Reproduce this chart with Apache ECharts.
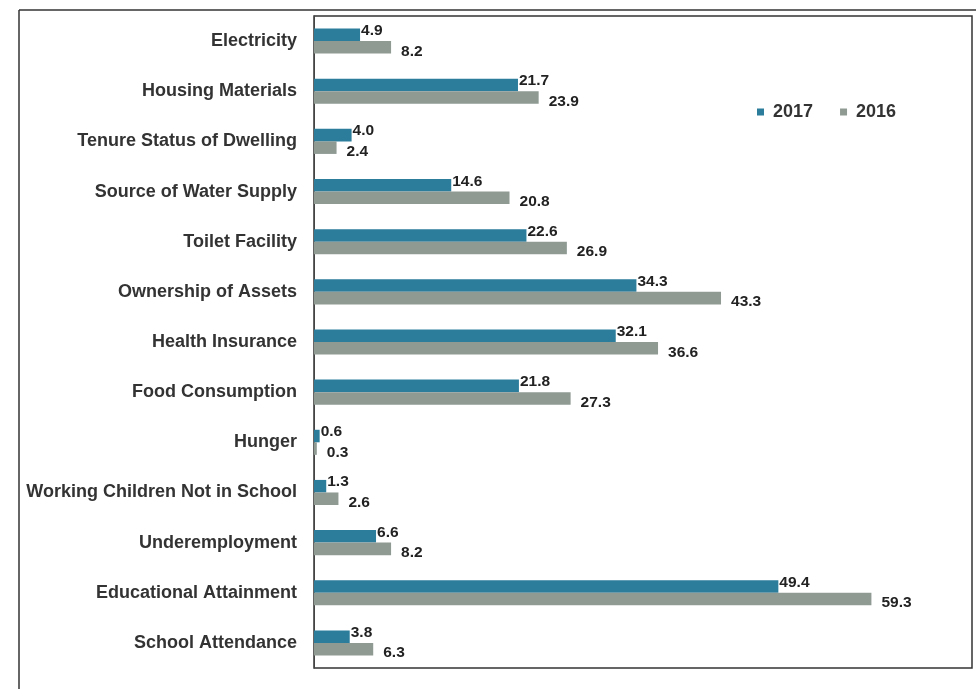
<!DOCTYPE html>
<html>
<head>
<meta charset="utf-8">
<style>
html,body{margin:0;padding:0;background:#fff;}
#chart{width:976px;height:689px;}
</style>
<script src="https://cdn.jsdelivr.net/npm/echarts@6/dist/echarts.min.js"></script>
</head>
<body>
<div id="chart"></div>
<script>
var categories = [
  "Electricity",
  "Housing Materials",
  "Tenure Status of Dwelling",
  "Source of Water Supply",
  "Toilet Facility",
  "Ownership of Assets",
  "Health Insurance",
  "Food Consumption",
  "Hunger",
  "Working Children Not in School",
  "Underemployment",
  "Educational Attainment",
  "School Attendance"
];
var values2017 = [4.9, 21.7, 4.0, 14.6, 22.6, 34.3, 32.1, 21.8, 0.6, 1.3, 6.6, 49.4, 3.8];
var values2016 = [8.2, 23.9, 2.4, 20.8, 26.9, 43.3, 36.6, 27.3, 0.3, 2.6, 8.2, 59.3, 6.3];

var chart = echarts.init(document.getElementById('chart'), null, {renderer: 'canvas'});
var labelFont = {fontFamily: 'Liberation Sans', fontWeight: 'bold', fontSize: 15.5, color: '#222'};
var option = {
  backgroundColor: '#ffffff',
  animation: false,
  legend: {
    data: ['2017', '2016'],
    left: 752,
    top: 98,
    itemWidth: 7,
    itemHeight: 7,
    itemGap: 27,
    icon: 'rect',
    textStyle: {fontFamily: 'Liberation Sans', fontWeight: 'bold', fontSize: 18, color: '#333', padding: [0,0,0,4]}
  },
  grid: {
    left: 314, top: 16, right: 4, bottom: 21,
    show: true, borderColor: '#333', borderWidth: 1.5, backgroundColor: 'transparent'
  },
  xAxis: {
    type: 'value', min: 0, max: 70,
    show: false,
    splitLine: {show: false}
  },
  yAxis: {
    type: 'category',
    data: categories,
    inverse: true,
    axisTick: {show: false},
    axisLine: {show: true, lineStyle: {color: '#444', width: 1}},
    axisLabel: {
      margin: 17,
      fontFamily: 'Liberation Sans', fontWeight: 'bold', fontSize: 18, color: '#333'
    }
  },
  graphic: [
    {type: 'line', shape: {x1: 19, y1: 10, x2: 976, y2: 10}, style: {stroke: '#333', lineWidth: 1.5}},
    {type: 'line', shape: {x1: 19, y1: 10, x2: 19, y2: 689}, style: {stroke: '#333', lineWidth: 1.5}}
  ],
  series: [
    {
      name: '2017', type: 'bar', data: values2017,
      barGap: '0%', barCategoryGap: '50%',
      itemStyle: {color: '#2b7d9b'},
      label: Object.assign({show: true, position: 'right', distance: 1, offset: [0, -4],
        formatter: function(p){ return p.value.toFixed(1); }}, labelFont)
    },
    {
      name: '2016', type: 'bar', data: values2016,
      barGap: '0%', barCategoryGap: '50%',
      itemStyle: {color: '#8f9a93'},
      label: Object.assign({show: true, position: 'right', distance: 10, offset: [0, 4],
        formatter: function(p){ return p.value.toFixed(1); }}, labelFont)
    }
  ]
};
chart.setOption(option);
</script>
</body>
</html>
